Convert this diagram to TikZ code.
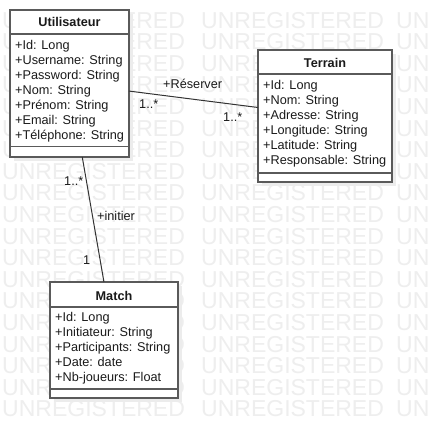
\documentclass[tikz,border=0pt]{standalone}
\usepackage{fontspec}
\setmainfont{Liberation Sans}
\usetikzlibrary{calc,shadows}
\definecolor{boxline}{HTML}{5A5A5A}
\definecolor{shadowc}{HTML}{ECECEC}
\definecolor{wm}{HTML}{EEEEEE}
\definecolor{txt}{HTML}{1A1A1A}
\definecolor{conn}{HTML}{333333}
\tikzset{
  umlbox/.style={draw=boxline, line width=1.5pt, fill=white, rectangle, inner sep=0pt, outer sep=0pt, anchor=north west,
    drop shadow={shadow xshift=4pt, shadow yshift=-4pt, fill=shadowc, opacity=1}},
  attr/.style={anchor=base west, inner sep=0pt, font=\fontsize{12.7}{15}\selectfont, text=txt},
  ttl/.style={anchor=base, inner sep=0pt, font=\fontsize{12.7}{15}\selectfont\bfseries, text=txt},
  lbl/.style={anchor=base west, inner sep=0pt, font=\fontsize{12.7}{15}\selectfont, text=txt},
  wmark/.style={anchor=base west, inner sep=0pt, text height=16pt, text depth=0pt, font=\fontsize{23}{23}\selectfont, text=wm},
  sepline/.style={draw=boxline, line width=1.5pt},
  link/.style={draw=conn, line width=1pt},
}
\begin{document}
\begin{tikzpicture}[x=1pt,y=-1pt]
\useasboundingbox (0,0) rectangle (431,439);
\clip (0,0) rectangle (431,439);
\fill[white] (0,0) rectangle (431,439);
% watermark
\foreach \k in {0,...,18}{
  \node[wmark] (wma-\k) at (2,{28+21.6*\k}) {UNREGISTERED};
  \node[wmark] (wmb-\k) at (201,{28+21.6*\k}) {UNREGISTERED};
  \node[wmark] (wmc-\k) at (396,{28+21.6*\k}) {UN};
}
% boxes
\node[umlbox, minimum width=119pt, minimum height=147pt] (user) at (10,10) {};
\node[umlbox, minimum width=134pt, minimum height=132pt] (terrain) at (258,50) {};
\node[umlbox, minimum width=128pt, minimum height=116pt] (match) at (50,282) {};
% compartments
\draw[sepline] ($(user.north west)+(0,24)$) -- ($(user.north east)+(0,24)$);
\draw[sepline] ($(user.north west)+(0,136.5)$) -- ($(user.north east)+(0,136.5)$);
\draw[sepline] ($(terrain.north west)+(0,24)$) -- ($(terrain.north east)+(0,24)$);
\draw[sepline] ($(terrain.north west)+(0,123)$) -- ($(terrain.north east)+(0,123)$);
\draw[sepline] ($(match.north west)+(0,25)$) -- ($(match.north east)+(0,25)$);
\draw[sepline] ($(match.north west)+(0,107)$) -- ($(match.north east)+(0,107)$);
% Utilisateur
\node[ttl] (user-t) at (69.5,27) {Utilisateur};
\node[attr] (u1) at (15,49) {+Id: Long};
\node[attr] (u2) at (15,64) {+Username: String};
\node[attr] (u3) at (15,79) {+Password: String};
\node[attr] (u4) at (15,94) {+Nom: String};
\node[attr] (u5) at (15,109) {+Prénom: String};
\node[attr] (u6) at (15,124) {+Email: String};
\node[attr] (u7) at (15,139) {+Téléphone: String};
% Terrain
\node[ttl] (terrain-t) at (325,67) {Terrain};
\node[attr] (t1) at (263,89) {+Id: Long};
\node[attr] (t2) at (263,104) {+Nom: String};
\node[attr] (t3) at (263,119) {+Adresse: String};
\node[attr] (t4) at (263,134) {+Longitude: String};
\node[attr] (t5) at (263,149) {+Latitude: String};
\node[attr] (t6) at (263,164) {+Responsable: String};
% Match
\node[ttl] (match-t) at (114,300) {Match};
\node[attr] (m1) at (55,321) {+Id: Long};
\node[attr] (m2) at (55,336) {+Initiateur: String};
\node[attr] (m3) at (55,351) {+Participants: String};
\node[attr] (m4) at (55,366) {+Date: date};
\node[attr] (m5) at (55,381) {+Nb-joueurs: Float};
% connectors
\draw[link] (user) -- (terrain);
\draw[link] (user) -- (match);
% labels
\node[lbl] (l-res) at (163,88) {+Réserver};
\node[lbl] (l-m1) at (139,108) {1..*};
\node[lbl] (l-m2) at (223,121) {1..*};
\node[lbl] (l-m3) at (64,185) {1..*};
\node[lbl] (l-ini) at (97,220) {+initier};
\node[lbl] (l-one) at (83,264) {1};
\end{tikzpicture}
\end{document}
